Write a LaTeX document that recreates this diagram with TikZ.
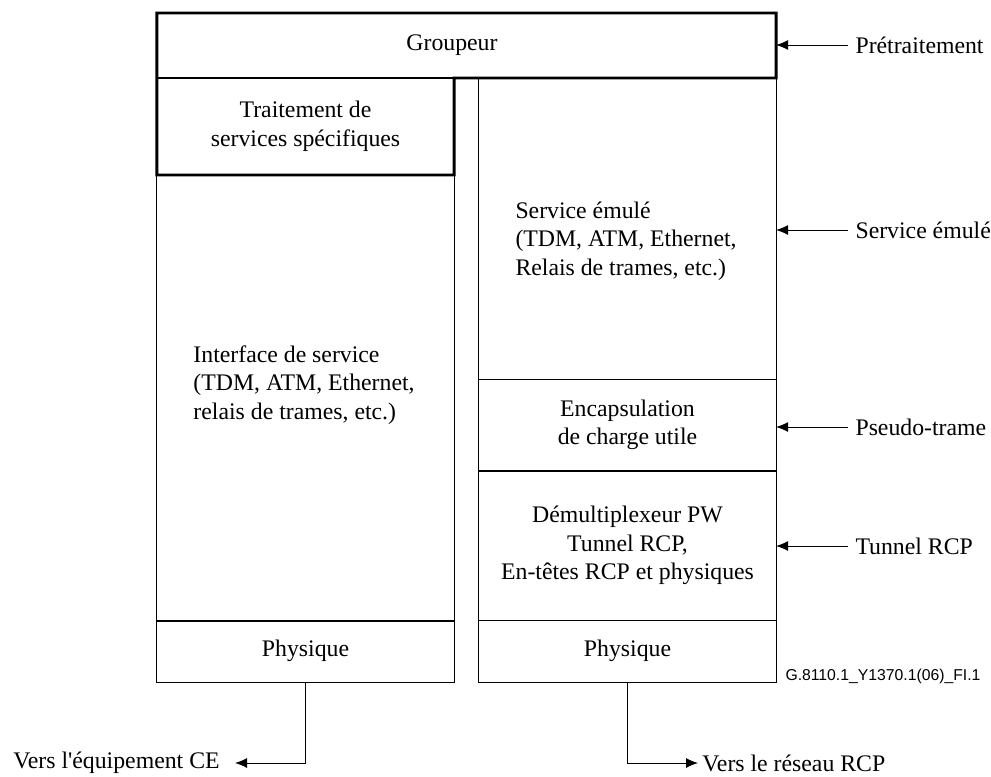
\documentclass[tikz,border=0pt]{standalone}
\usepackage{fontspec}
\setmainfont{Liberation Serif}
\newfontfamily\plainserif{Liberation Serif}
\newfontfamily\figsans{Liberation Sans}
\usetikzlibrary{arrows.meta}

\tikzset{
	layer/.style={draw, outer sep=0pt, inner sep=0pt, minimum width=7.425cm, align=center},
	txt/.style={inner sep=0pt, anchor=west, align=left},
	lbl/.style={anchor=west, inner xsep=5pt, inner ysep=0pt},
	arr/.style={-{Latex[length=0.3cm, width=0.25cm]}},
}

\begin{document}
\begin{tikzpicture}[x=0.025cm, y=-0.025cm, line width=0.7pt, font=\fontsize{16.9}{20.3}\selectfont]
	\useasboundingbox (0,0) rectangle (991,776);

	% groupeur and left column
	\node[layer, minimum width=15.475cm, minimum height=1.625cm] (grp) at (466.5,45.5) {};
	\node[inner sep=0pt] (grptxt) at (452,45.5) {Groupeur};
	\node[layer, minimum height=2.425cm] (trait) at (305.5,126.5) {Traitement de\\services spécifiques};
	\node[layer, minimum height=11.15cm] (iface) at (305.5,398) {};
	\node[txt] (ifacetxt) at (193,385) {Interface de service\\(TDM, ATM, Ethernet,\\relais de trames, etc.)};
	\node[layer, minimum height=1.55cm] (physL) at (305.5,651) {Physique};

	% right column
	\node[layer, minimum height=7.525cm] (emul) at (627.5,228.5) {};
	\node[txt] (emultxt) at (515,241) {Service émulé\\(TDM, ATM, Ethernet,\\Relais de trames, etc.)};
	\node[layer, minimum height=2.3cm] (encap) at (627.5,425) {Encapsulation\\de charge utile};
	\node[layer, minimum height=3.725cm] (demux) at (627.5,545.5) {Démultiplexeur PW\\Tunnel RCP,\\En-têtes RCP et physiques};
	\node[layer, minimum height=1.55cm] (physR) at (627.5,651) {Physique};

	% thick outline round groupeur
	\draw[line width=2.1pt, line join=miter] (grp.north west) -- (grp.north east) -- (grp.south east)
		-- (trait.north east) -- (trait.south east) -- (trait.south west) -- cycle;

	% levels
	\node[lbl] (pre) at (848,45) {Prétraitement};
	\node[lbl] (svc) at (848,230) {Service émulé};
	\node[lbl] (pt) at (848,427) {Pseudo-trame};
	\node[lbl] (tun) at (848,546) {Tunnel RCP};
	\draw[arr] (pre.west) -- (pre.west -| grp.east);
	\draw[arr] (svc.west) -- (svc.west -| emul.east);
	\draw[arr] (pt.west) -- (pt.west -| encap.east);
	\draw[arr] (tun.west) -- (tun.west -| demux.east);

	% outputs
	\node[txt, font=\figsans\fontsize{11.2}{13}\selectfont] (figid) at (785,676) {G.8110.1\_Y1370.1(06)\_FI.1};
	\node[lbl, anchor=east, inner xsep=10.6pt] (ce) at (235,763) {Vers l{\plainserif '}équipement CE};
	\node[lbl, inner xsep=2.8pt] (rcp) at (698,763) {Vers le réseau RCP};
	\draw[arr] (physL.south) |- (ce.east);
	\draw[arr] (physR.south) |- (rcp.west);

\end{tikzpicture}
\end{document}
